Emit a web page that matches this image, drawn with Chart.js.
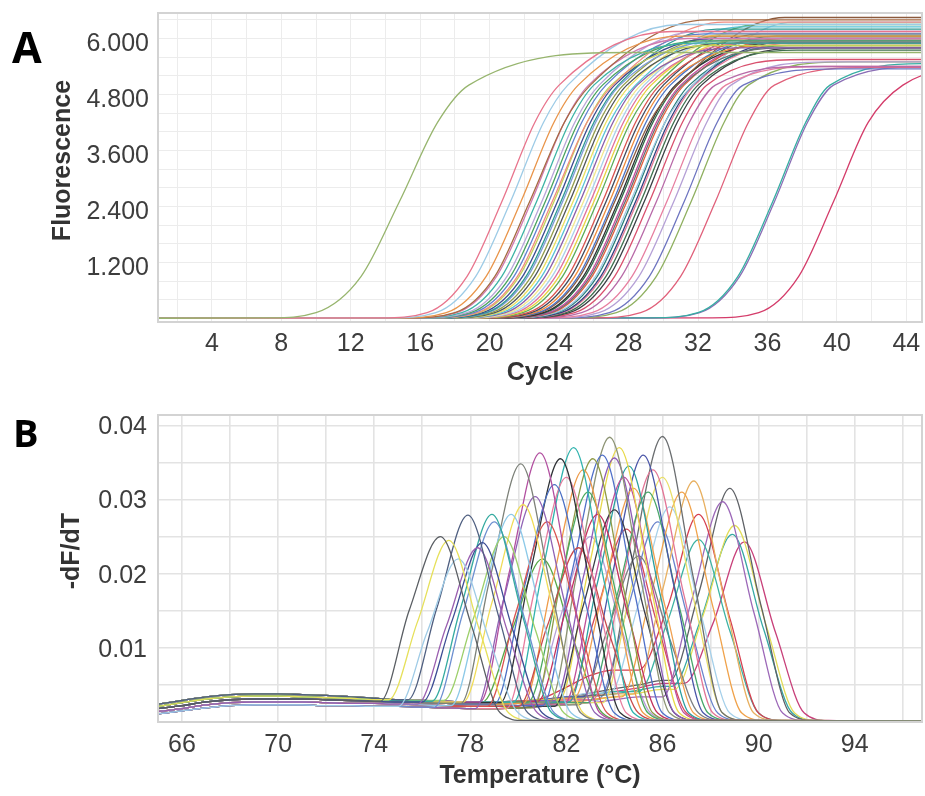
<!DOCTYPE html>
<html>
<head>
<meta charset="utf-8">
<script src="https://cdn.jsdelivr.net/npm/chart.js@4.4.1/dist/chart.umd.min.js"></script>
<style>
  html, body { margin: 0; padding: 0; background: #fff; }
  .panel { position: absolute; left: 0; width: 925px; }
  #boxA { top: 0; height: 400px; }
  #boxB { top: 400px; height: 396px; }
</style>
</head>
<body>
<div class="panel" id="boxA"><canvas id="ampChart"></canvas></div>
<div class="panel" id="boxB"><canvas id="meltChart"></canvas></div>
<script>
// ---- A: amplification curves ----
// each row: cycles where the curve crosses ampLevels, then cycle where it levels off, plateau value
const ampLevels = [10, 120, 900, 2500, 4200, 5000];
const ampCurves = [
  [7.3, 10.0, 12.6, 14.8, 17.0, 18.8, 28.0, 5700],
  [13.7, 16.4, 18.7, 20.7, 22.6, 24.0, 30.5, 6150],
  [14.2, 16.9, 19.2, 21.2, 23.1, 24.5, 31.0, 6300],
  [14.8, 17.5, 19.8, 21.8, 23.7, 25.1, 31.0, 6050],
  [15.3, 18.0, 20.3, 22.3, 24.3, 25.8, 32.5, 6400],
  [15.4, 18.1, 20.4, 22.4, 24.3, 25.7, 31.4, 6000],
  [15.7, 18.4, 20.7, 22.7, 24.6, 26.0, 31.7, 5900],
  [16.0, 18.7, 21.0, 23.0, 24.9, 26.3, 32.0, 6150],
  [16.2, 18.9, 21.2, 23.2, 25.1, 26.5, 32.2, 5950],
  [16.4, 19.1, 21.4, 23.4, 25.3, 26.7, 32.4, 6100],
  [16.6, 19.3, 21.6, 23.6, 25.6, 27.1, 33.5, 6350],
  [16.7, 19.4, 21.7, 23.7, 25.6, 27.0, 32.7, 5850],
  [16.9, 19.6, 21.9, 23.9, 25.8, 27.2, 32.9, 6000],
  [17.1, 19.8, 22.1, 24.1, 26.0, 27.4, 33.1, 6200],
  [17.2, 19.9, 22.2, 24.2, 26.1, 27.5, 33.2, 5950],
  [17.4, 20.1, 22.4, 24.4, 26.3, 27.7, 33.4, 6050],
  [17.6, 20.3, 22.6, 24.6, 26.5, 27.9, 33.6, 5900],
  [17.8, 20.5, 22.8, 24.8, 26.7, 28.1, 33.8, 6100],
  [18.0, 20.7, 23.0, 25.0, 26.9, 28.4, 34.5, 6250],
  [18.2, 20.9, 23.2, 25.2, 27.1, 28.5, 34.2, 5800],
  [18.4, 21.1, 23.4, 25.4, 27.3, 28.7, 34.4, 6000],
  [18.6, 21.3, 23.6, 25.6, 27.5, 28.9, 34.6, 6150],
  [18.8, 21.5, 23.8, 25.8, 27.7, 29.1, 34.8, 5900],
  [19.0, 21.7, 24.0, 26.0, 27.9, 29.3, 35.0, 6000],
  [19.2, 21.9, 24.2, 26.2, 28.1, 29.6, 35.5, 6300],
  [19.5, 22.2, 24.5, 26.5, 28.4, 29.8, 35.5, 5950],
  [19.7, 22.4, 24.7, 26.7, 28.6, 30.0, 35.7, 6100],
  [19.9, 22.6, 24.9, 26.9, 28.8, 30.2, 35.9, 5850],
  [20.1, 22.8, 25.1, 27.1, 29.0, 30.4, 36.1, 6000],
  [20.2, 22.9, 25.2, 27.2, 29.2, 30.8, 37.0, 6450],
  [20.4, 23.1, 25.4, 27.4, 29.3, 30.7, 36.4, 5900],
  [20.5, 23.2, 25.5, 27.5, 29.4, 30.8, 36.5, 6050],
  [20.7, 23.4, 25.7, 27.7, 29.6, 31.0, 36.7, 5950],
  [20.8, 23.5, 25.8, 27.8, 29.7, 31.1, 36.8, 5800],
  [20.9, 23.6, 25.9, 27.9, 29.8, 31.2, 36.9, 6000],
  [21.1, 23.8, 26.1, 28.1, 30.1, 31.7, 37.5, 6350],
  [21.2, 23.9, 26.2, 28.2, 30.1, 31.5, 37.2, 5850],
  [21.4, 24.1, 26.4, 28.4, 30.3, 31.7, 37.4, 5950],
  [21.5, 24.2, 26.5, 28.5, 30.4, 31.8, 37.5, 5900],
  [21.7, 24.4, 26.7, 28.7, 30.6, 32.0, 37.7, 5750],
  [21.9, 24.6, 26.9, 28.9, 30.8, 32.2, 37.9, 5800],
  [22.2, 24.9, 27.2, 29.2, 31.1, 32.5, 38.2, 5550],
  [22.6, 25.3, 27.6, 29.6, 31.5, 33.0, 38.6, 5400],
  [23.2, 25.9, 28.2, 30.2, 32.1, 33.6, 39.2, 5400],
  [23.6, 26.3, 28.6, 30.6, 32.5, 33.9, 39.6, 5500],
  [24.2, 26.9, 29.2, 31.2, 33.1, 34.6, 40.2, 5350],
  [24.6, 27.3, 29.6, 31.6, 33.5, 34.9, 40.6, 5500],
  [26.0, 28.7, 31.0, 33.0, 34.9, 36.4, 42.0, 5380],
  [29.3, 32.0, 34.3, 36.3, 38.2, 39.6, 45.3, 5460],
  [29.4, 32.1, 34.4, 36.4, 38.3, 39.8, 45.4, 5400],
  [32.8, 35.5, 37.8, 39.8, 41.8, 43.8, 47.5, 5350]
];
const ampXTicks = [2, 4, 6, 8, 10, 12, 14, 16, 18, 20, 22, 24, 26, 28, 30, 32, 34, 36, 38, 40, 42, 44];
const ampXLabeled = [4, 8, 12, 16, 20, 24, 28, 32, 36, 40, 44];
const ampYTicks = [400, 800, 1200, 1600, 2000, 2400, 2800, 3200, 3600, 4000, 4400, 4800, 5200, 5600, 6000, 6400];
const ampYLabelValues = [1200, 2400, 3600, 4800, 6000];
const ampYLabelText = ['1.200', '2.400', '3.600', '4.800', '6.000'];
const ampColors = ['#97b56e', '#e8748c', '#9dcbe6', '#e9954a', '#a66a42', '#d07ab0', '#3db3a6', '#b9a5d8',
  '#4aa35e', '#5f7fcf', '#f08c80', '#c3d255', '#3b4a8f', '#2f9a92', '#7f9bd8', '#939c4a', '#50555b',
  '#ebe05e', '#58c2d6', '#8b5ca9', '#f2e98c', '#a8d0ea', '#e06f9c', '#e8d340', '#5aab58', '#d9534f',
  '#3f4a5e', '#ef8a3a', '#4c73c6', '#8c5a3c', '#2e3134', '#2d6a48', '#c54d9c', '#6b6f74', '#e2603c',
  '#9fc8e4', '#2a7f7a', '#34407e', '#e47a98', '#3e6f4e', '#3b3f44', '#d9506e', '#b86aa8', '#e77fa0',
  '#b5a0d6', '#6d74c0', '#8fb060', '#e0607a', '#36ada2', '#8a6db5', '#d43c6a'];

// ---- B: melt curves ----
// each row: peak temperature, peak height, height 1.3 °C before, height 1.3 °C after, baseline kind
const meltCurves = [
  [76.75, .0250, .0150, .0130, 0], [77.1, .0245, .0135, .0122, 4], [77.5, .0220, .0121, .0110, 2],
  [77.9, .0279, .0153, .0140, 1], [78.3, .0235, .0129, .0117, 5], [78.5, .0242, .0133, .0121, 0],
  [78.9, .0280, .0154, .0140, 4], [79.0, .0270, .0148, .0135, 2], [79.4, .0250, .0137, .0125, 1],
  [79.7, .0280, .0154, .0140, 5], [80.1, .0348, .0191, .0174, 0], [80.2, .0293, .0161, .0146, 4],
  [80.7, .0304, .0167, .0152, 2], [80.9, .0363, .0199, .0181, 1], [81.2, .0270, .0148, .0135, 5],
  [81.5, .0320, .0176, .0160, 0], [81.75, .0355, .0195, .0177, 4], [82.0, .0330, .0181, .0165, 2],
  [82.3, .0370, .0203, .0185, 1], [82.5, .0235, .0129, .0117, 5], [82.7, .0340, .0187, .0170, 0],
  [82.9, .0310, .0170, .0155, 4], [83.1, .0355, .0195, .0177, 2], [83.3, .0280, .0154, .0140, 1],
  [83.5, .0360, .0198, .0180, 5], [83.8, .0384, .0211, .0192, 0], [84.0, .0356, .0195, .0178, 4],
  [84.0, .0286, .0157, .0143, 2], [84.2, .0370, .0203, .0185, 1], [84.4, .0330, .0181, .0165, 5],
  [84.6, .0345, .0189, .0172, 0], [84.8, .0315, .0173, .0157, 4], [85.0, .0224, .0123, .0112, 2],
  [85.2, .0360, .0198, .0180, 1], [85.4, .0310, .0170, .0155, 5], [85.6, .0340, .0187, .0170, 0],
  [86.0, .0385, .0211, .0192, 4], [86.0, .0330, .0181, .0165, 2], [86.3, .0290, .0159, .0145, 1],
  [86.8, .0310, .0170, .0155, 5], [87.3, .0325, .0178, .0162, 0], [87.5, .0280, .0154, .0140, 3],
  [87.5, .0246, .0135, .0123, 4], [88.5, .0297, .0163, .0148, 2], [88.8, .0315, .0173, .0157, 1],
  [89.0, .0265, .0145, .0132, 5], [88.9, .0253, .0139, .0126, 0], [89.4, .0243, .0133, .0121, 4],
  [83.0, .0250, .0137, .0125, 2], [81.0, .0220, .0121, .0110, 1], [85.8, .0270, .0148, .0135, 5],
  [84.5, .0260, .0143, .0130, 0]
];
const meltBaseT = [65, 66, 67, 68, 69, 70, 71, 72, 73, 74, 75, 76, 77, 78, 79, 80, 81, 82, 83, 84, 85, 86, 87];
const meltBaseMid = [.0018, .0022, .0027, .0030, .0031, .0031, .0031, .0030, .0029, .0028, .0027, .0026,
  .0025, .0024, .0024, .0025, .0027, .0030, .0034, .0038, .0043, .0048, .0055];
const meltBaseHigh = [.0024, .0029, .0034, .0037, .0038, .0038, .0037, .0036, .0034, .0032, .0030, .0029,
  .0028, .0027, .0027, .0028, .0030, .0034, .0039, .0045, .0050, .0056, .0062];
const meltBaseLow = [.0011, .0015, .0019, .0022, .0023, .0023, .0023, .0022, .0022, .0021, .0021, .0020,
  .0019, .0018, .0018, .0019, .0021, .0023, .0026, .0030, .0034, .0038, .0043];
const meltBaseShoulder = [.0018, .0022, .0027, .0030, .0031, .0031, .0031, .0030, .0029, .0028, .0027, .0026,
  .0025, .0024, .0024, .0025, .0032, .0047, .0063, .0070, .0072, .0075, .0080];
const meltBaseMidHigh = [.0021, .0026, .0031, .0034, .0035, .0035, .0034, .0033, .0032, .0030, .0029, .0028,
  .0027, .0026, .0026, .0027, .0029, .0032, .0036, .0041, .0046, .0052, .0058];
const meltBaseMidLow = [.0014, .0018, .0023, .0026, .0027, .0027, .0027, .0026, .0025, .0025, .0024, .0023,
  .0022, .0021, .0021, .0022, .0024, .0026, .0030, .0034, .0039, .0044, .0050];
const meltBases = [meltBaseMid, meltBaseHigh, meltBaseLow, meltBaseShoulder, meltBaseMidHigh, meltBaseMidLow];
const meltFootDx = -2.5;
const meltSideDx = 1.3;
const meltTailDx = [2.5, 3.5];
const meltTail = [.0012, .0002];
const meltXTicks = [66, 68, 70, 72, 74, 76, 78, 80, 82, 84, 86, 88, 90, 92, 94, 96];
const meltXLabeled = [66, 70, 74, 78, 82, 86, 90, 94];
const meltYTicks = [0.005, 0.01, 0.015, 0.02, 0.025, 0.03, 0.035, 0.04];
const meltYLabelValues = [0.01, 0.02, 0.03, 0.04];
const meltYLabelText = ['0.01', '0.02', '0.03', '0.04'];
const meltColors = ['#5a5e63', '#e6e05a', '#9fcbe6', '#4f5f80', '#9a5fb0', '#3d4d94', '#34aaa0', '#6c8fd0',
  '#9ccf6a', '#8cc9e8', '#7c8078', '#f0dc58', '#8f62b4', '#b24fa0', '#d9534f', '#4a6fc4', '#2f3236',
  '#e77ea0', '#30b3ae', '#c94b4b', '#ee9a48', '#4caa60', '#8f9a46', '#c2325e', '#5070c8', '#8d9474',
  '#8e5cb8', '#3a3d48', '#e8d94a', '#c0509a', '#2a9fa0', '#f0a050', '#7d7f82', '#4a55a8', '#48a66a',
  '#e37596', '#6b6e70', '#eadf6a', '#a5d0ea', '#f0a24a', '#e8b060', '#d64050', '#3cb3a3', '#9c68b8',
  '#5e6166', '#e2dc58', '#36a8a4', '#c8407a', '#b7a0d8', '#58a848', '#6a84cc', '#d44a5a'];

const fontTick = { family: '"Liberation Sans", Arial, sans-serif', size: 25 };
const fontTitle = { family: '"Liberation Sans", Arial, sans-serif', size: 25, weight: 'bold' };
const tickColor = '#3d3d3d';

// frame round the plot area and the panel letter
const panelPlugin = {
  id: 'panel',
  afterDraw(chart, args, opts) {
    const { ctx, chartArea: a } = chart;
    ctx.save();
    ctx.strokeStyle = '#d3d3d3';
    ctx.lineWidth = 2;
    ctx.strokeRect(a.left, a.top, a.right - a.left, a.bottom - a.top);
    ctx.fillStyle = '#000';
    ctx.font = 'bold ' + opts.size + 'px "Open Sans", sans-serif';
    ctx.textBaseline = 'alphabetic';
    ctx.fillText(opts.letter, opts.x, opts.y);
    ctx.restore();
  }
};

function ampDatasets() {
  return ampCurves.map((r, i) => {
    const pts = [{ x: 0, y: 0 }];
    ampLevels.forEach((lv, k) => pts.push({ x: r[k], y: lv }));
    pts.push({ x: r[6], y: r[7] }, { x: 50, y: r[7] });
    return { data: pts, borderColor: ampColors[i % ampColors.length] };
  });
}

function meltDatasets() {
  return meltCurves.map((r, i) => {
    const [tm, top, before, after, kind] = r;
    const base = meltBases[kind];
    const pts = [];
    meltBaseT.forEach((t, k) => { if (t < tm + meltFootDx - 0.1) pts.push({ x: t, y: base[k] }); });
    const foot = pts[pts.length - 1].y;
    pts.push({ x: tm + meltFootDx, y: foot }, { x: tm - meltSideDx, y: before }, { x: tm, y: top },
      { x: tm + meltSideDx, y: after });
    meltTailDx.forEach((d, k) => pts.push({ x: tm + d, y: meltTail[k] }));
    pts.push({ x: 98, y: 0.0001 });
    return { data: pts, borderColor: meltColors[i % meltColors.length] };
  });
}

function baseOptions(cfg) {
  return {
    responsive: true,
    maintainAspectRatio: false,
    animation: false,
    events: [],
    layout: { padding: { top: cfg.padTop, right: 3, left: 0, bottom: 0 } },
    elements: {
      point: { radius: 0 },
      line: { borderWidth: 1.3, cubicInterpolationMode: 'monotone', fill: false }
    },
    plugins: {
      legend: { display: false },
      tooltip: { enabled: false },
      panel: cfg.panel
    },
    scales: {
      x: {
        type: 'linear', min: cfg.xMin, max: cfg.xMax,
        afterBuildTicks: s => { s.ticks = cfg.xTicks.map(v => ({ value: v })); },
        afterFit: s => { s.height = cfg.xHeight; s.paddingLeft = 0; s.paddingRight = 0; },
        grid: { color: cfg.gridColor, lineWidth: cfg.gridWidth, drawTicks: false },
        border: { display: false },
        ticks: {
          font: fontTick, color: tickColor, padding: cfg.xPad, maxRotation: 0, autoSkip: false,
          callback: v => cfg.xLabeled.includes(v) ? String(v) : ''
        },
        title: { display: true, text: cfg.xTitle, font: fontTitle, color: '#333', padding: { top: 0, bottom: cfg.xTitlePad } }
      },
      y: {
        type: 'linear', min: cfg.yMin, max: cfg.yMax,
        afterBuildTicks: s => { s.ticks = cfg.yTicks.map(v => ({ value: v })); },
        afterFit: s => { s.width = 158; s.paddingTop = 0; s.paddingBottom = 0; },
        grid: { color: cfg.gridColor, lineWidth: cfg.gridWidth, drawTicks: false },
        border: { display: false },
        ticks: {
          font: fontTick, color: tickColor, padding: cfg.yPad, autoSkip: false, labelOffset: cfg.yLabelOffset,
          callback: v => {
            const k = cfg.yLabelValues.findIndex(l => Math.abs(l - v) < 1e-9);
            return k >= 0 ? cfg.yLabelText[k] : '';
          }
        },
        title: { display: true, text: cfg.yTitle, font: fontTitle, color: '#333', padding: { top: cfg.yTitlePad, bottom: 0 } }
      }
    }
  };
}

new Chart(document.getElementById('ampChart'), {
  type: 'line',
  data: { datasets: ampDatasets() },
  options: baseOptions({
    padTop: 13, xMin: 0.9, xMax: 44.9, xTicks: ampXTicks, xLabeled: ampXLabeled, xHeight: 78, xPad: 7,
    xTitle: 'Cycle', xTitlePad: 12,
    yMin: -79, yMax: 6547, yTicks: ampYTicks, yLabelValues: ampYLabelValues, yLabelText: ampYLabelText,
    yPad: 9, yLabelOffset: 6, yTitle: '  Fluorescence', yTitlePad: 48,
    gridColor: '#ececec', gridWidth: 1,
    panel: { letter: 'A', size: 43, x: 12, y: 63 }
  }),
  plugins: [panelPlugin]
});

new Chart(document.getElementById('meltChart'), {
  type: 'line',
  data: { datasets: meltDatasets() },
  options: baseOptions({
    padTop: 15, xMin: 65, xMax: 96.8, xTicks: meltXTicks, xLabeled: meltXLabeled, xHeight: 74, xPad: 8,
    xTitle: 'Temperature (°C)', xTitlePad: 5,
    yMin: 0, yMax: 0.0414, yTicks: meltYTicks, yLabelValues: meltYLabelValues, yLabelText: meltYLabelText,
    yPad: 11, yLabelOffset: 2, yTitle: '     -dF/dT', yTitlePad: 57,
    gridColor: '#e3e3e3', gridWidth: 1.6,
    panel: { letter: 'B', size: 38, x: 13, y: 47 }
  }),
  plugins: [panelPlugin]
});
</script>
</body>
</html>
